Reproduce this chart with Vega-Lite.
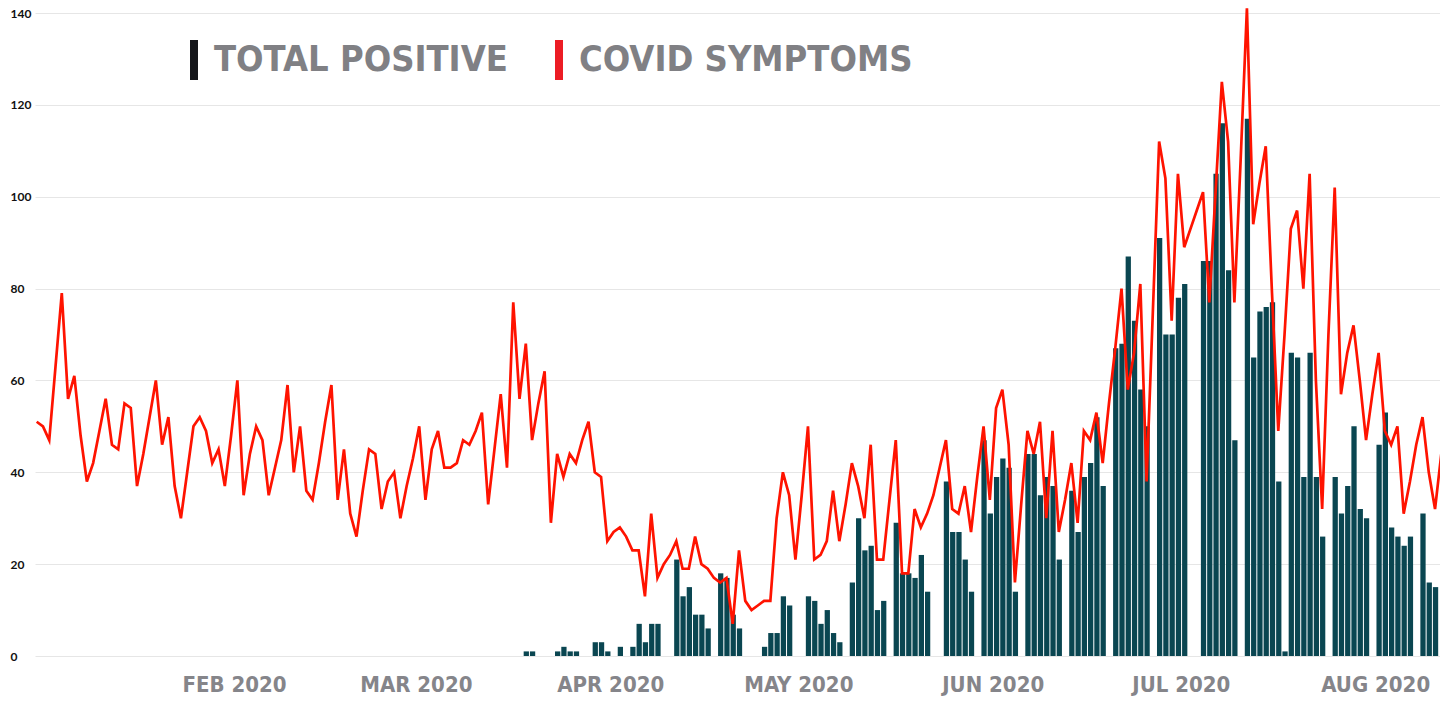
{
  "$schema": "https://vega.github.io/schema/vega-lite/v6.json",
  "width": 1405,
  "height": 643,
  "autosize": {"type": "none"},
  "padding": {"left": 35, "top": 13, "right": 0, "bottom": 52},
  "background": "white",
  "config": {"view": {"stroke": null}, "font": "Lato"},
  "data": {"values": [
    {"date":"2020-01-01","symptoms":51},{"date":"2020-01-02","symptoms":50},{"date":"2020-01-03","symptoms":47},{"date":"2020-01-04","symptoms":63},{"date":"2020-01-05","symptoms":79},{"date":"2020-01-06","symptoms":56},{"date":"2020-01-07","symptoms":61},{"date":"2020-01-08","symptoms":48},{"date":"2020-01-09","symptoms":38},{"date":"2020-01-10","symptoms":42},{"date":"2020-01-11","symptoms":49},{"date":"2020-01-12","symptoms":56},{"date":"2020-01-13","symptoms":46},{"date":"2020-01-14","symptoms":45},{"date":"2020-01-15","symptoms":55},{"date":"2020-01-16","symptoms":54},{"date":"2020-01-17","symptoms":37},{"date":"2020-01-18","symptoms":44},{"date":"2020-01-19","symptoms":52},{"date":"2020-01-20","symptoms":60},{"date":"2020-01-21","symptoms":46},{"date":"2020-01-22","symptoms":52},{"date":"2020-01-23","symptoms":37},{"date":"2020-01-24","symptoms":30},{"date":"2020-01-25","symptoms":40},{"date":"2020-01-26","symptoms":50},{"date":"2020-01-27","symptoms":52},{"date":"2020-01-28","symptoms":49},{"date":"2020-01-29","symptoms":42},{"date":"2020-01-30","symptoms":45},{"date":"2020-01-31","symptoms":37},
    {"date":"2020-02-01","symptoms":48},{"date":"2020-02-02","symptoms":60},{"date":"2020-02-03","symptoms":35},{"date":"2020-02-04","symptoms":44},{"date":"2020-02-05","symptoms":50},{"date":"2020-02-06","symptoms":47},{"date":"2020-02-07","symptoms":35},{"date":"2020-02-08","symptoms":41},{"date":"2020-02-09","symptoms":47},{"date":"2020-02-10","symptoms":59},{"date":"2020-02-11","symptoms":40},{"date":"2020-02-12","symptoms":50},{"date":"2020-02-13","symptoms":36},{"date":"2020-02-14","symptoms":34},{"date":"2020-02-15","symptoms":42},{"date":"2020-02-16","symptoms":51},{"date":"2020-02-17","symptoms":59},{"date":"2020-02-18","symptoms":34},{"date":"2020-02-19","symptoms":45},{"date":"2020-02-20","symptoms":31},{"date":"2020-02-21","symptoms":26},{"date":"2020-02-22","symptoms":36},{"date":"2020-02-23","symptoms":45},{"date":"2020-02-24","symptoms":44},{"date":"2020-02-25","symptoms":32},{"date":"2020-02-26","symptoms":38},{"date":"2020-02-27","symptoms":40},{"date":"2020-02-28","symptoms":30},{"date":"2020-02-29","symptoms":37},
    {"date":"2020-03-01","symptoms":43},{"date":"2020-03-02","symptoms":50},{"date":"2020-03-03","symptoms":34},{"date":"2020-03-04","symptoms":45},{"date":"2020-03-05","symptoms":49},{"date":"2020-03-06","symptoms":41},{"date":"2020-03-07","symptoms":41},{"date":"2020-03-08","symptoms":42},{"date":"2020-03-09","symptoms":47},{"date":"2020-03-10","symptoms":46},{"date":"2020-03-11","symptoms":49},{"date":"2020-03-12","symptoms":53},{"date":"2020-03-13","symptoms":33},{"date":"2020-03-14","symptoms":45},{"date":"2020-03-15","symptoms":57},{"date":"2020-03-16","symptoms":41},{"date":"2020-03-17","symptoms":77},{"date":"2020-03-18","symptoms":56},{"date":"2020-03-19","symptoms":68,"positive":1},{"date":"2020-03-20","symptoms":47,"positive":1},{"date":"2020-03-21","symptoms":55},{"date":"2020-03-22","symptoms":62},{"date":"2020-03-23","symptoms":29},{"date":"2020-03-24","symptoms":44,"positive":1},{"date":"2020-03-25","symptoms":39,"positive":2},{"date":"2020-03-26","symptoms":44,"positive":1},{"date":"2020-03-27","symptoms":42,"positive":1},{"date":"2020-03-28","symptoms":47},{"date":"2020-03-29","symptoms":51},{"date":"2020-03-30","symptoms":40,"positive":3},{"date":"2020-03-31","symptoms":39,"positive":3},
    {"date":"2020-04-01","symptoms":25,"positive":1},{"date":"2020-04-02","symptoms":27},{"date":"2020-04-03","symptoms":28,"positive":2},{"date":"2020-04-04","symptoms":26},{"date":"2020-04-05","symptoms":23,"positive":2},{"date":"2020-04-06","symptoms":23,"positive":7},{"date":"2020-04-07","symptoms":13,"positive":3},{"date":"2020-04-08","symptoms":31,"positive":7},{"date":"2020-04-09","symptoms":17,"positive":7},{"date":"2020-04-10","symptoms":20},{"date":"2020-04-11","symptoms":22},{"date":"2020-04-12","symptoms":25,"positive":21},{"date":"2020-04-13","symptoms":19,"positive":13},{"date":"2020-04-14","symptoms":19,"positive":15},{"date":"2020-04-15","symptoms":26,"positive":9},{"date":"2020-04-16","symptoms":20,"positive":9},{"date":"2020-04-17","symptoms":19,"positive":6},{"date":"2020-04-18","symptoms":17},{"date":"2020-04-19","symptoms":16,"positive":18},{"date":"2020-04-20","symptoms":17,"positive":17},{"date":"2020-04-21","symptoms":7,"positive":9},{"date":"2020-04-22","symptoms":23,"positive":6},{"date":"2020-04-23","symptoms":12},{"date":"2020-04-24","symptoms":10},{"date":"2020-04-25","symptoms":11},{"date":"2020-04-26","symptoms":12,"positive":2},{"date":"2020-04-27","symptoms":12,"positive":5},{"date":"2020-04-28","symptoms":30,"positive":5},{"date":"2020-04-29","symptoms":40,"positive":13},{"date":"2020-04-30","symptoms":35,"positive":11},
    {"date":"2020-05-01","symptoms":21},{"date":"2020-05-02","symptoms":35},{"date":"2020-05-03","symptoms":50,"positive":13},{"date":"2020-05-04","symptoms":21,"positive":12},{"date":"2020-05-05","symptoms":22,"positive":7},{"date":"2020-05-06","symptoms":25,"positive":10},{"date":"2020-05-07","symptoms":36,"positive":5},{"date":"2020-05-08","symptoms":25,"positive":3},{"date":"2020-05-09","symptoms":33},{"date":"2020-05-10","symptoms":42,"positive":16},{"date":"2020-05-11","symptoms":37,"positive":30},{"date":"2020-05-12","symptoms":30,"positive":23},{"date":"2020-05-13","symptoms":46,"positive":24},{"date":"2020-05-14","symptoms":21,"positive":10},{"date":"2020-05-15","symptoms":21,"positive":12},{"date":"2020-05-16","symptoms":34},{"date":"2020-05-17","symptoms":47,"positive":29},{"date":"2020-05-18","symptoms":18,"positive":18},{"date":"2020-05-19","symptoms":18,"positive":18},{"date":"2020-05-20","symptoms":32,"positive":17},{"date":"2020-05-21","symptoms":28,"positive":22},{"date":"2020-05-22","symptoms":31,"positive":14},{"date":"2020-05-23","symptoms":35},{"date":"2020-05-24","symptoms":41},{"date":"2020-05-25","symptoms":47,"positive":38},{"date":"2020-05-26","symptoms":32,"positive":27},{"date":"2020-05-27","symptoms":31,"positive":27},{"date":"2020-05-28","symptoms":37,"positive":21},{"date":"2020-05-29","symptoms":27,"positive":14},{"date":"2020-05-30","symptoms":39},{"date":"2020-05-31","symptoms":50,"positive":47},
    {"date":"2020-06-01","symptoms":34,"positive":31},{"date":"2020-06-02","symptoms":54,"positive":39},{"date":"2020-06-03","symptoms":58,"positive":43},{"date":"2020-06-04","symptoms":46,"positive":41},{"date":"2020-06-05","symptoms":16,"positive":14},{"date":"2020-06-06","symptoms":33},{"date":"2020-06-07","symptoms":49,"positive":44},{"date":"2020-06-08","symptoms":44,"positive":44},{"date":"2020-06-09","symptoms":51,"positive":35},{"date":"2020-06-10","symptoms":30,"positive":39},{"date":"2020-06-11","symptoms":49,"positive":37},{"date":"2020-06-12","symptoms":27,"positive":21},{"date":"2020-06-13","symptoms":34},{"date":"2020-06-14","symptoms":42,"positive":36},{"date":"2020-06-15","symptoms":29,"positive":27},{"date":"2020-06-16","symptoms":49,"positive":39},{"date":"2020-06-17","symptoms":47,"positive":42},{"date":"2020-06-18","symptoms":53,"positive":52},{"date":"2020-06-19","symptoms":42,"positive":37},{"date":"2020-06-20","symptoms":55},{"date":"2020-06-21","symptoms":67,"positive":67},{"date":"2020-06-22","symptoms":80,"positive":68},{"date":"2020-06-23","symptoms":58,"positive":87},{"date":"2020-06-24","symptoms":66,"positive":73},{"date":"2020-06-25","symptoms":81,"positive":58},{"date":"2020-06-26","symptoms":38,"positive":50},{"date":"2020-06-27","symptoms":75},{"date":"2020-06-28","symptoms":112,"positive":91},{"date":"2020-06-29","symptoms":104,"positive":70},{"date":"2020-06-30","symptoms":73,"positive":70},
    {"date":"2020-07-01","symptoms":105,"positive":78},{"date":"2020-07-02","symptoms":89,"positive":81},{"date":"2020-07-03","symptoms":93},{"date":"2020-07-04","symptoms":97},{"date":"2020-07-05","symptoms":101,"positive":86},{"date":"2020-07-06","symptoms":77,"positive":86},{"date":"2020-07-07","symptoms":101,"positive":105},{"date":"2020-07-08","symptoms":125,"positive":116},{"date":"2020-07-09","symptoms":112,"positive":84},{"date":"2020-07-10","symptoms":77,"positive":47},{"date":"2020-07-11","symptoms":108},{"date":"2020-07-12","symptoms":141,"positive":117},{"date":"2020-07-13","symptoms":94,"positive":65},{"date":"2020-07-14","symptoms":103,"positive":75},{"date":"2020-07-15","symptoms":111,"positive":76},{"date":"2020-07-16","symptoms":79,"positive":77},{"date":"2020-07-17","symptoms":49,"positive":38},{"date":"2020-07-18","symptoms":70,"positive":1},{"date":"2020-07-19","symptoms":93,"positive":66},{"date":"2020-07-20","symptoms":97,"positive":65},{"date":"2020-07-21","symptoms":80,"positive":39},{"date":"2020-07-22","symptoms":105,"positive":66},{"date":"2020-07-23","symptoms":60,"positive":39},{"date":"2020-07-24","symptoms":32,"positive":26},{"date":"2020-07-25","symptoms":70},{"date":"2020-07-26","symptoms":102,"positive":39},{"date":"2020-07-27","symptoms":57,"positive":31},{"date":"2020-07-28","symptoms":66,"positive":37},{"date":"2020-07-29","symptoms":72,"positive":50},{"date":"2020-07-30","symptoms":60,"positive":32},{"date":"2020-07-31","symptoms":47,"positive":30},
    {"date":"2020-08-01","symptoms":57},{"date":"2020-08-02","symptoms":66,"positive":46},{"date":"2020-08-03","symptoms":49,"positive":53},{"date":"2020-08-04","symptoms":46,"positive":28},{"date":"2020-08-05","symptoms":50,"positive":26},{"date":"2020-08-06","symptoms":31,"positive":24},{"date":"2020-08-07","symptoms":38,"positive":26},{"date":"2020-08-08","symptoms":46},{"date":"2020-08-09","symptoms":52,"positive":31},{"date":"2020-08-10","symptoms":40,"positive":16},{"date":"2020-08-11","symptoms":32,"positive":15},{"date":"2020-08-12","symptoms":44}
  ]},
  "layer": [
    {
      "mark": {"type": "bar", "color": "#0a4651"},
      "encoding": {
        "x": {
          "field": "date", "timeUnit": "utcyearmonthdate", "type": "temporal",
          "scale": {"domain": [
            {"year": 2020, "month": 1, "date": 1, "hours": 5, "minutes": 30, "utc": true},
            {"year": 2020, "month": 8, "date": 12, "hours": 7, "utc": true}
          ]},
          "axis": {
            "title": null, "grid": false, "domain": false, "ticks": false,
            "tickCount": {"interval": "month", "step": 1},
            "labelExpr": "upper(utcFormat(datum.value, '%b %Y'))",
            "labelFont": "DejaVu Sans Condensed, Liberation Sans Narrow, sans-serif", "labelFontSize": 22, "labelFontWeight": "bold",
            "labelColor": "#85858a", "labelPadding": 18, "labelOffset": 6,
            "labelFlush": false, "labelOverlap": false
          }
        },
        "y": {
          "field": "positive", "type": "quantitative",
          "scale": {"domain": [0, 140], "nice": false},
          "axis": {
            "title": null, "values": [0, 20, 40, 60, 80, 100, 120, 140],
            "grid": true, "gridColor": "#e6e6e6", "domain": false, "ticks": false, "tickSize": 0,
            "labelAlign": "left", "labelPadding": 25, "labelFont": "Lato",
            "labelFontWeight": "bold", "labelFontSize": 12, "labelColor": "#111111"
          }
        }
      }
    },
    {
      "mark": {"type": "line", "strokeWidth": 2.7, "color": "#ff1300"},
      "encoding": {
        "x": {"field": "date", "timeUnit": "utcyearmonthdate", "type": "temporal", "bandPosition": 0.5},
        "y": {"field": "symptoms", "type": "quantitative"}
      }
    },
    {
      "transform": [{"filter": "datum.symptoms > 1000"}],
      "mark": {"type": "point", "filled": true},
      "encoding": {
        "x": {"field": "date", "timeUnit": "utcyearmonthdate", "type": "temporal"},
        "y": {"field": "symptoms", "type": "quantitative"},
        "color": {
          "datum": "TOTAL POSITIVE",
          "scale": {"domain": ["TOTAL POSITIVE", "COVID SYMPTOMS"], "range": ["#15161a", "#ec1c24"]},
          "legend": {
            "orient": "none", "legendX": 139, "legendY": 27, "direction": "horizontal",
            "title": null, "padding": 0,
            "symbolType": "M-0.2,-1H0.2V1H-0.2Z", "symbolSize": 1600, "symbolStrokeWidth": 0,
            "symbolOpacity": 1,
            "labelFont": "DejaVu Sans Condensed, Liberation Sans Narrow, sans-serif", "labelFontSize": 36, "labelFontWeight": "bold",
            "labelColor": "#808084", "labelOffset": 0, "columnPadding": 31, "labelLimit": 600
          }
        }
      }
    }
  ]
}
